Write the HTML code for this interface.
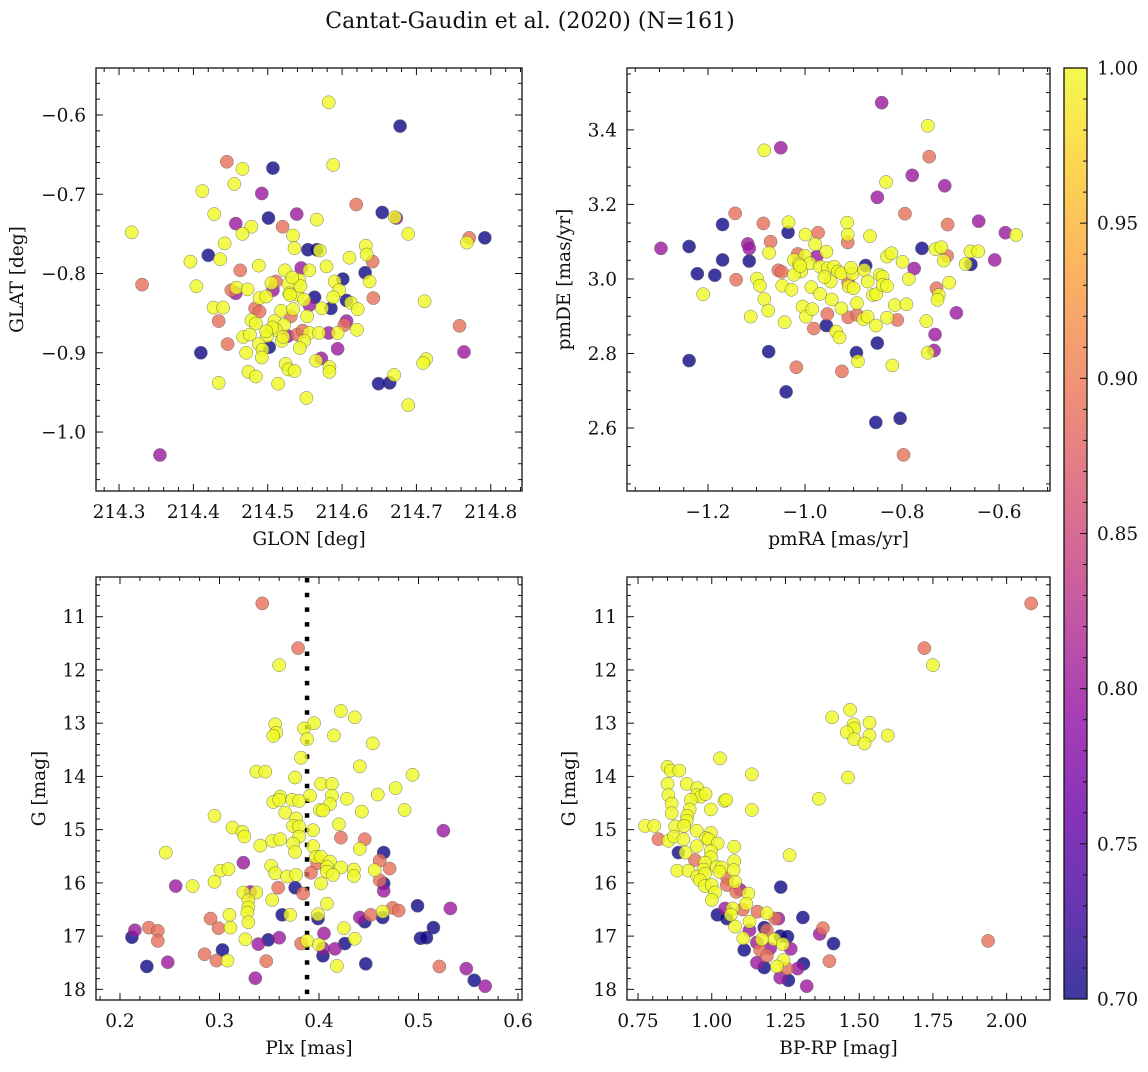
<!DOCTYPE html>
<html><head><meta charset="utf-8"><style>
html,body{margin:0;padding:0;background:#fff;}
svg text{font-family:"DejaVu Serif","Liberation Serif",serif;fill:#111;}
</style></head><body>
<svg id="fig" width="1148" height="1067" viewBox="0 0 1148 1067" xmlns="http://www.w3.org/2000/svg">
<defs>
<linearGradient id="plasma" x1="0" y1="1" x2="0" y2="0">
<stop offset="0" stop-color="#0d0887"/><stop offset="0.1" stop-color="#41049d"/><stop offset="0.2" stop-color="#6a00a8"/><stop offset="0.3" stop-color="#8f0da4"/><stop offset="0.4" stop-color="#b12a90"/><stop offset="0.5" stop-color="#cc4778"/><stop offset="0.6" stop-color="#e16462"/><stop offset="0.7" stop-color="#f2844b"/><stop offset="0.8" stop-color="#fca636"/><stop offset="0.9" stop-color="#fcce25"/><stop offset="1" stop-color="#f0f921"/>
</linearGradient>
</defs>
<text x="530" y="28" font-size="22" text-anchor="middle">Cantat-Gaudin et al. (2020) (N=161)</text>
</svg>
<script>
// ---- Panel 1: GLON / GLAT ----
const p1Glon=[214.582,214.678,214.445,214.466,214.507,214.588,214.455,214.412,214.492,214.619,214.428,214.501,214.539,214.566,214.654,214.671,214.673,214.457,214.478,214.520,214.466,214.534,214.689,214.317,214.771,214.768,214.792,214.442,214.536,214.554,214.566,214.570,214.632,214.420,214.396,214.436,214.610,214.633,214.641,214.488,214.545,214.579,214.463,214.523,214.556,214.631,214.331,214.404,214.601,214.637,214.590,214.451,214.457,214.458,214.473,214.511,214.505,214.507,214.528,214.542,214.529,214.540,214.549,214.563,214.556,214.596,214.588,214.606,214.612,214.621,214.642,214.711,214.489,214.498,214.427,214.440,214.483,214.489,214.518,214.534,214.531,214.553,214.573,214.585,214.434,214.478,214.484,214.509,214.522,214.511,214.603,214.606,214.620,214.758,214.467,214.476,214.499,214.519,214.527,214.540,214.547,214.556,214.569,214.582,214.594,214.446,214.488,214.502,214.493,214.549,214.543,214.594,214.410,214.471,214.492,214.764,214.572,214.565,214.713,214.709,214.524,214.583,214.583,214.528,214.536,214.474,214.484,214.670,214.664,214.649,214.434,214.514,214.552,214.689,214.355,214.530,214.544,214.533,214.506,214.521,214.498];
const p1Glat=[-0.584,-0.614,-0.659,-0.668,-0.667,-0.663,-0.687,-0.696,-0.699,-0.713,-0.725,-0.730,-0.725,-0.732,-0.723,-0.729,-0.730,-0.737,-0.741,-0.741,-0.750,-0.752,-0.750,-0.748,-0.755,-0.761,-0.755,-0.762,-0.768,-0.770,-0.770,-0.771,-0.765,-0.777,-0.785,-0.782,-0.780,-0.776,-0.785,-0.790,-0.793,-0.791,-0.796,-0.796,-0.796,-0.799,-0.814,-0.816,-0.807,-0.810,-0.810,-0.821,-0.825,-0.818,-0.820,-0.810,-0.812,-0.821,-0.813,-0.808,-0.825,-0.827,-0.833,-0.830,-0.840,-0.821,-0.830,-0.834,-0.837,-0.845,-0.831,-0.835,-0.831,-0.829,-0.843,-0.843,-0.844,-0.848,-0.847,-0.845,-0.854,-0.854,-0.844,-0.844,-0.860,-0.859,-0.863,-0.860,-0.865,-0.871,-0.865,-0.860,-0.871,-0.866,-0.880,-0.877,-0.879,-0.885,-0.879,-0.877,-0.872,-0.875,-0.875,-0.875,-0.875,-0.889,-0.889,-0.893,-0.896,-0.885,-0.894,-0.895,-0.900,-0.900,-0.906,-0.899,-0.907,-0.910,-0.908,-0.913,-0.914,-0.918,-0.924,-0.921,-0.923,-0.924,-0.930,-0.928,-0.938,-0.939,-0.938,-0.939,-0.957,-0.966,-1.029,-0.827,-0.816,-0.805,-0.868,-0.880,-0.873];
const p1Prob=[1,0.7,0.89,1,0.7,1,1,1,0.8,0.89,1,0.7,0.8,1,0.7,1,0.8,0.8,1,0.89,1,1,1,1,0.89,1,0.7,1,1,0.7,0.7,1,1,0.7,1,1,1,1,0.89,1,0.8,1,0.89,1,1,0.7,0.89,1,0.7,1,1,0.89,0.8,1,1,0.89,1,0.8,1,1,1,1,1,0.7,0.8,1,1,0.7,1,1,0.89,1,1,1,1,1,0.89,0.89,1,1,0.89,1,1,0.7,0.89,1,1,1,1,1,0.89,0.8,1,0.89,1,1,1,1,0.8,0.89,0.89,1,1,0.8,1,0.89,1,0.7,1,1,1,0.8,0.7,1,1,0.8,0.8,1,1,1,1,1,1,1,1,1,1,1,0.7,0.7,1,1,1,1,0.8,1,1,1,1,1,1];

// ---- Panel 2: pmRA / pmDE ----
const p2PmRA=[-0.842,-0.747,-1.084,-1.050,-0.744,-0.779,-0.833,-0.712,-0.851,-1.144,-0.794,-1.170,-1.086,-1.034,-0.913,-0.706,-0.642,-1.035,-0.999,-0.973,-0.912,-0.866,-0.587,-0.565,-1.297,-1.239,-1.118,-1.115,-1.071,-0.979,-0.912,-0.759,-0.731,-0.719,-0.707,-1.074,-1.015,-1.000,-0.976,-0.956,-0.831,-0.822,-0.799,-0.714,-0.659,-0.643,-0.669,-0.658,-0.609,-1.170,-1.115,-1.222,-1.186,-1.142,-1.055,-1.048,-1.023,-1.012,-1.008,-1.023,-0.990,-0.969,-0.953,-0.940,-0.932,-0.947,-0.925,-0.902,-0.875,-0.878,-0.871,-0.846,-0.840,-0.775,-0.786,-0.703,-1.099,-1.093,-1.047,-1.028,-0.987,-0.969,-0.911,-0.910,-0.900,-0.860,-0.853,-0.840,-0.831,-0.729,-0.724,-0.727,-1.210,-1.084,-1.076,-1.112,-1.042,-1.005,-0.998,-0.985,-0.954,-0.982,-0.956,-0.936,-0.929,-0.925,-0.911,-0.893,-0.893,-0.880,-0.871,-0.854,-0.831,-0.815,-0.810,-0.791,-0.750,-0.688,-0.732,-1.075,-1.239,-0.894,-0.891,-0.851,-0.820,-0.734,-0.747,-1.018,-0.924,-1.039,-0.854,-0.804,-0.797,-0.960,-0.945,-0.905,-1.010];
const p2PmDE=[3.473,3.411,3.345,3.352,3.328,3.278,3.260,3.250,3.219,3.176,3.175,3.146,3.149,3.152,3.151,3.146,3.155,3.125,3.119,3.124,3.119,3.115,3.124,3.118,3.082,3.087,3.094,3.082,3.100,3.093,3.098,3.082,3.080,3.085,3.062,3.070,3.067,3.062,3.060,3.073,3.060,3.069,3.046,3.049,3.074,3.074,3.040,3.039,3.051,3.051,3.048,3.014,3.010,2.998,3.023,3.019,3.051,3.040,3.020,3.011,3.042,3.033,3.029,3.033,3.020,2.993,3.015,3.014,3.036,3.024,2.993,3.011,3.006,3.028,3.000,2.990,3.001,2.982,2.982,2.971,2.978,2.960,2.990,2.980,2.975,2.957,2.959,2.984,2.981,2.975,2.957,2.944,2.959,2.946,2.915,2.899,2.884,2.926,2.899,2.919,2.906,2.867,2.875,2.859,2.843,2.921,2.897,2.935,2.904,2.892,2.899,2.875,2.896,2.930,2.890,2.932,2.887,2.909,2.851,2.805,2.781,2.802,2.779,2.828,2.768,2.808,2.802,2.763,2.752,2.697,2.615,2.626,2.528,3.005,2.945,3.030,3.035];
const p2Prob=[0.8,1,1,0.8,0.89,0.8,1,0.8,0.8,0.89,0.89,0.7,0.89,1,1,0.89,0.8,0.7,1,0.89,1,1,0.8,1,0.8,0.7,0.8,0.8,0.89,1,0.89,0.7,1,1,0.89,1,0.89,1,0.8,1,1,1,1,1,1,1,1,0.7,0.8,0.7,0.7,0.7,0.7,0.89,0.89,0.89,1,1,1,1,1,1,1,1,1,1,1,1,0.7,1,1,1,1,0.8,1,1,1,1,1,1,1,1,0.89,1,1,1,1,1,1,0.89,1,1,1,1,1,1,1,1,1,1,0.89,0.89,0.7,1,1,1,0.89,1,0.89,1,1,1,1,1,0.89,1,1,0.8,0.8,0.7,0.7,0.7,1,0.7,1,0.8,1,0.89,0.89,0.7,0.7,0.7,0.89,1,1,1,1];

// ---- Panel 3: Plx / G ----
const p3Plx=[0.343,0.379,0.360,0.422,0.436,0.356,0.357,0.354,0.395,0.385,0.388,0.415,0.454,0.382,0.337,0.346,0.441,0.494,0.376,0.402,0.413,0.477,0.459,0.413,0.391,0.361,0.354,0.360,0.373,0.380,0.428,0.411,0.401,0.404,0.443,0.486,0.366,0.295,0.377,0.420,0.374,0.380,0.313,0.323,0.325,0.394,0.380,0.525,0.422,0.446,0.353,0.361,0.374,0.394,0.341,0.441,0.376,0.246,0.465,0.397,0.402,0.411,0.461,0.324,0.398,0.408,0.422,0.435,0.471,0.352,0.301,0.309,0.356,0.368,0.377,0.392,0.408,0.414,0.435,0.456,0.461,0.465,0.465,0.295,0.256,0.273,0.402,0.359,0.376,0.384,0.324,0.331,0.337,0.353,0.329,0.408,0.499,0.532,0.329,0.328,0.310,0.363,0.371,0.399,0.399,0.441,0.446,0.452,0.464,0.464,0.474,0.480,0.291,0.329,0.299,0.311,0.229,0.238,0.215,0.212,0.238,0.425,0.515,0.405,0.326,0.349,0.360,0.339,0.382,0.388,0.400,0.404,0.416,0.426,0.436,0.502,0.508,0.303,0.285,0.297,0.308,0.404,0.347,0.248,0.227,0.418,0.447,0.521,0.548,0.336,0.556,0.567];
const p3G=[10.75,11.59,11.91,12.77,12.89,13.02,13.18,13.24,13.00,13.10,13.30,13.23,13.38,13.65,13.91,13.91,13.81,13.97,14.02,14.14,14.14,14.22,14.34,14.36,14.36,14.38,14.48,14.44,14.44,14.46,14.42,14.52,14.63,14.64,14.66,14.63,14.68,14.74,14.79,14.90,14.93,14.94,14.96,15.04,15.13,15.01,15.13,15.02,15.15,15.18,15.21,15.18,15.26,15.31,15.30,15.36,15.42,15.43,15.43,15.51,15.51,15.60,15.58,15.62,15.63,15.70,15.71,15.75,15.73,15.68,15.77,15.74,15.82,15.88,15.85,15.81,15.79,15.85,15.87,15.76,15.95,16.01,16.15,15.98,16.06,16.06,16.01,16.09,16.09,16.20,16.18,16.17,16.18,16.32,16.33,16.39,16.43,16.48,16.46,16.56,16.60,16.60,16.60,16.67,16.59,16.65,16.73,16.60,16.65,16.54,16.47,16.52,16.67,16.74,16.85,16.84,16.84,16.90,16.89,17.02,17.09,16.85,16.84,16.95,17.06,17.07,17.03,17.15,17.14,17.09,17.16,17.23,17.24,17.14,17.05,17.04,17.03,17.26,17.34,17.46,17.46,17.37,17.47,17.49,17.57,17.56,17.52,17.57,17.61,17.79,17.83,17.94];
const p3Prob=[0.89,0.89,1,1,1,1,1,1,1,1,1,1,1,1,1,1,1,1,1,1,1,1,1,1,1,1,1,1,1,1,1,1,1,1,1,1,1,1,1,1,1,1,1,1,1,1,1,0.8,0.89,0.89,1,1,1,1,1,1,1,1,0.7,1,1,1,0.89,0.8,0.89,1,1,1,0.89,1,1,1,1,1,1,0.89,1,1,1,1,0.89,0.7,0.8,1,0.8,1,1,0.89,0.7,0.89,1,0.8,1,1,1,1,0.7,0.8,1,1,1,0.7,1,0.7,1,0.8,0.7,0.89,0.7,1,0.89,0.89,0.89,1,0.89,1,0.89,0.89,0.8,0.7,0.89,1,0.7,0.8,1,0.7,0.8,0.8,0.89,1,1,0.8,0.8,0.7,1,0.7,0.7,0.7,0.89,0.89,1,0.7,0.89,0.8,0.7,1,0.7,0.89,0.8,0.8,0.7,0.8];
const plxMean=0.388;

// ---- Panel 4: BP-RP / G ----
const p4BpRp=[2.083,1.721,1.750,1.469,1.408,1.481,1.535,1.483,1.458,1.535,1.597,1.483,1.518,1.028,0.850,0.861,0.890,1.136,1.462,0.850,0.915,0.951,0.853,0.949,0.963,0.979,0.929,1.363,1.043,1.049,0.864,0.997,1.136,0.925,0.864,0.917,0.915,0.774,0.805,0.876,0.906,0.949,0.997,0.819,0.853,0.872,0.904,0.981,0.989,0.949,1.020,1.076,0.887,0.911,0.997,1.264,0.943,0.997,1.076,0.977,1.017,1.034,0.883,0.921,0.972,1.026,1.074,0.951,0.977,0.960,1.053,1.079,0.977,1.000,1.051,1.083,1.096,1.011,1.234,1.124,1.000,1.117,1.045,1.071,1.105,1.019,1.051,1.065,1.155,1.187,1.215,1.226,1.309,1.128,1.079,1.178,1.187,1.128,1.377,1.366,1.232,1.257,1.212,1.107,1.153,1.170,1.241,1.268,1.413,1.110,1.164,1.198,1.187,1.153,1.178,1.243,1.221,1.255,1.311,1.399,1.291,1.232,1.260,1.322,1.937];
const p4G=[10.75,11.59,11.91,12.75,12.89,13.02,12.99,13.10,13.17,13.23,13.23,13.30,13.38,13.66,13.82,13.89,13.89,13.96,14.02,14.14,14.14,14.22,14.35,14.35,14.38,14.33,14.44,14.42,14.46,14.44,14.51,14.62,14.63,14.62,14.69,14.74,14.83,14.93,14.93,14.94,14.93,15.02,15.06,15.18,15.21,15.13,15.18,15.16,15.18,15.31,15.26,15.32,15.43,15.43,15.40,15.48,15.57,15.52,15.59,15.62,15.70,15.71,15.77,15.77,15.75,15.79,15.76,15.88,15.83,15.95,15.92,15.98,16.06,16.04,16.04,16.17,16.13,16.18,16.08,16.20,16.32,16.39,16.48,16.48,16.50,16.60,16.67,16.60,16.54,16.57,16.67,16.67,16.65,16.73,16.82,16.84,16.89,16.89,16.85,16.96,17.00,17.01,17.06,17.04,17.12,17.06,17.15,17.24,17.14,17.26,17.26,17.23,17.37,17.50,17.59,17.45,17.57,17.61,17.52,17.47,17.61,17.78,17.83,17.94,17.09];
const p4Prob=[0.89,0.89,1,1,1,1,1,1,1,1,1,1,1,1,1,1,1,1,1,1,1,1,1,1,1,1,1,1,1,1,1,1,1,1,1,1,1,1,1,1,1,1,1,0.89,1,1,1,1,1,1,1,1,0.7,1,1,1,0.89,1,1,1,1,1,1,1,1,1,1,1,1,1,0.89,1,1,1,0.89,0.89,0.8,1,0.7,1,1,1,0.8,1,0.89,0.7,0.7,1,0.89,1,0.89,0.8,0.7,1,1,0.7,0.89,0.8,0.89,0.8,0.7,0.7,1,1,0.8,1,1,0.8,0.7,0.7,0.89,0.8,0.89,0.8,0.7,1,1,0.89,0.7,0.89,0.8,0.8,0.7,0.8,0.89];

// ---- Tick arrays ----
const p1XTicks=[214.3,214.4,214.5,214.6,214.7,214.8];
const p1XLabels=["214.3","214.4","214.5","214.6","214.7","214.8"];
const p1YTicks=[-0.6,-0.7,-0.8,-0.9,-1.0];
const p1YLabels=["\u22120.6","\u22120.7","\u22120.8","\u22120.9","\u22121.0"];
const p2XTicks=[-1.2,-1.0,-0.8,-0.6];
const p2XLabels=["\u22121.2","\u22121.0","\u22120.8","\u22120.6"];
const p2YTicks=[3.4,3.2,3.0,2.8,2.6];
const p2YLabels=["3.4","3.2","3.0","2.8","2.6"];
const p3XTicks=[0.2,0.3,0.4,0.5,0.6];
const p3XLabels=["0.2","0.3","0.4","0.5","0.6"];
const gTicks=[11,12,13,14,15,16,17,18];
const gLabels=["11","12","13","14","15","16","17","18"];
const p4XTicks=[0.75,1.0,1.25,1.5,1.75,2.0];
const p4XLabels=["0.75","1.00","1.25","1.50","1.75","2.00"];
const cbTicks=[1.0,0.95,0.9,0.85,0.8,0.75,0.7];
const cbLabels=["1.00","0.95","0.90","0.85","0.80","0.75","0.70"];

const NS="http://www.w3.org/2000/svg";
const svg=document.getElementById('fig');
const FS=18.5;
function mk(tag,attrs,parent){const e=document.createElementNS(NS,tag);for(const k in attrs)e.setAttribute(k,attrs[k]);(parent||svg).appendChild(e);return e;}

const stops=[[0,13,8,135],[0.1,65,4,157],[0.2,106,0,168],[0.3,143,13,164],[0.4,177,42,144],[0.5,204,71,120],[0.6,225,100,98],[0.7,242,132,75],[0.8,252,166,54],[0.9,252,206,37],[1,240,249,33]];
function plasma(p){let t=(p-0.7)/0.3;t=Math.max(0,Math.min(1,t));for(let i=1;i<stops.length;i++){if(t<=stops[i][0]){const a=stops[i-1],b=stops[i];const f=(t-a[0])/(b[0]-a[0]);return 'rgb('+[1,2,3].map(j=>Math.round(a[j]+(b[j]-a[j])*f)).join(',')+')';}}return 'rgb(240,249,33)';}

function panel(cfg){
  const g=mk('g',{});
  
  
  const sx=v=>cfg.x0+(v-cfg.xmin)/(cfg.xmax-cfg.xmin)*(cfg.x1-cfg.x0);
  const sy=v=>cfg.y0+(v-cfg.ytop)/(cfg.ybot-cfg.ytop)*(cfg.y1-cfg.y0);
  const tk=mk('g',{stroke:'#111','stroke-width':1},g);
  
  
  const lo=Math.min(cfg.xmin,cfg.xmax),hi=Math.max(cfg.xmin,cfg.xmax);
  for(let k=Math.ceil(lo/cfg.xminor-1e-6);k*cfg.xminor<=hi+1e-9;k++){
    const v=k*cfg.xminor,x=sx(v);
    const major=cfg.xticks.some(t=>Math.abs(t-v)<cfg.xminor/10);
    const L=major?7:4;
    mk('line',{x1:x,x2:x,y1:cfg.y1,y2:cfg.y1-L},tk);mk('line',{x1:x,x2:x,y1:cfg.y0,y2:cfg.y0+L},tk);
  }
  const ylo=Math.min(cfg.ytop,cfg.ybot),yhi=Math.max(cfg.ytop,cfg.ybot);
  for(let k=Math.ceil(ylo/cfg.yminor-1e-6);k*cfg.yminor<=yhi+1e-9;k++){
    const v=k*cfg.yminor,y=sy(v);
    const major=cfg.yticks.some(t=>Math.abs(t-v)<cfg.yminor/10);
    const L=major?7:4;
    mk('line',{x1:cfg.x0,x2:cfg.x0+L,y1:y,y2:y},tk);mk('line',{x1:cfg.x1,x2:cfg.x1-L,y1:y,y2:y},tk);
  }
  cfg.xticks.forEach((v,i)=>{const t=mk('text',{x:sx(v),y:cfg.y1+27,'font-size':FS,'text-anchor':'middle'},g);t.textContent=cfg.xlabels[i];
    
    });
  cfg.yticks.forEach((v,i)=>{const t=mk('text',{x:cfg.x0-10,y:sy(v)+6.5,'font-size':FS,'text-anchor':'end'},g);t.textContent=cfg.ylabels[i];
    
    });
  const xl=mk('text',{x:(cfg.x0+cfg.x1)/2,y:cfg.y1+54,'font-size':FS,'text-anchor':'middle'},g);xl.textContent=cfg.xtitle;
  
  
  const yc=(cfg.y0+cfg.y1)/2;
  const yl=mk('text',{x:cfg.ylx,y:yc,'font-size':FS,'text-anchor':'middle',transform:'rotate(-90 '+cfg.ylx+' '+yc+')'},g);yl.textContent=cfg.ytitle;
  
  
  if(cfg.vline!==undefined){
    const l=mk('line',{x1:sx(cfg.vline),x2:sx(cfg.vline),y1:cfg.y0+1,y2:cfg.y1,stroke:'#000','stroke-width':4.5,'stroke-dasharray':'4.5 10.2'},g);
    
    
  }
  const idx=cfg.xs.map((_,i)=>i).sort((a,b)=>cfg.ps[a]-cfg.ps[b]);
  const pts=mk('g',{},g);
  
  
  idx.forEach(i=>{
    const c=mk('circle',{cx:sx(cfg.xs[i]),cy:sy(cfg.ys[i]),r:6.6,fill:plasma(cfg.ps[i]),stroke:'#555','stroke-width':0.5,opacity:0.8},pts);
    
    
  });
  const fr=mk('rect',{x:cfg.x0,y:cfg.y0,width:cfg.x1-cfg.x0,height:cfg.y1-cfg.y0,fill:'none',stroke:'#111','stroke-width':1.3},g);
  
  
}

panel({name:'glon-glat-panel',x0:96,x1:522,y0:68,y1:491,xmin:214.269,xmax:214.842,ytop:-0.5407,ybot:-1.0744,xticks:p1XTicks,xlabels:p1XLabels,yticks:p1YTicks,ylabels:p1YLabels,xminor:0.02,yminor:0.02,xtitle:'GLON [deg]',ytitle:'GLAT [deg]',ylx:23,xs:p1Glon,ys:p1Glat,ps:p1Prob});
panel({name:'proper-motion-panel',x0:627,x1:1050,y0:68,y1:491,xmin:-1.367,xmax:-0.495,ytop:3.566,ybot:2.431,xticks:p2XTicks,xlabels:p2XLabels,yticks:p2YTicks,ylabels:p2YLabels,xminor:0.05,yminor:0.05,xtitle:'pmRA [mas/yr]',ytitle:'pmDE [mas/yr]',ylx:570,xs:p2PmRA,ys:p2PmDE,ps:p2Prob});
panel({name:'parallax-magnitude-panel',x0:96,x1:522,y0:577,y1:1000,xmin:0.1759,xmax:0.604,ytop:10.254,ybot:18.20,xticks:p3XTicks,xlabels:p3XLabels,yticks:gTicks,ylabels:gLabels,xminor:0.02,yminor:0.2,xtitle:'Plx [mas]',ytitle:'G [mag]',ylx:45,vline:plxMean,xs:p3Plx,ys:p3G,ps:p3Prob});
panel({name:'color-magnitude-panel',x0:627,x1:1050,y0:577,y1:1000,xmin:0.7126,xmax:2.147,ytop:10.254,ybot:18.20,xticks:p4XTicks,xlabels:p4XLabels,yticks:gTicks,ylabels:gLabels,xminor:0.05,yminor:0.2,xtitle:'BP-RP [mag]',ytitle:'G [mag]',ylx:575,xs:p4BpRp,ys:p4G,ps:p4Prob});

// colorbar
const cb=mk('g',{});


const cbx0=1064,cbx1=1087,cby0=68,cby1=999;
const cby=v=>cby0+(1.0-v)/0.3*(cby1-cby0);
const cr=mk('rect',{x:cbx0,y:cby0,width:cbx1-cbx0,height:cby1-cby0,fill:'url(#plasma)','fill-opacity':0.8,stroke:'#111','stroke-width':1.3},cb);


for(let k=70;k<=100;k++){const v=k/100,y=cby(v);const major=k%5===0;mk('line',{x1:cbx1,x2:cbx1-(major?7:4),y1:y,y2:y,stroke:'#111','stroke-width':1},cb);}
cbTicks.forEach((v,i)=>{const t=mk('text',{x:1097,y:cby(v)+6.5,'font-size':FS},cb);t.textContent=cbLabels[i];
  
  });
</script>
</body></html>
